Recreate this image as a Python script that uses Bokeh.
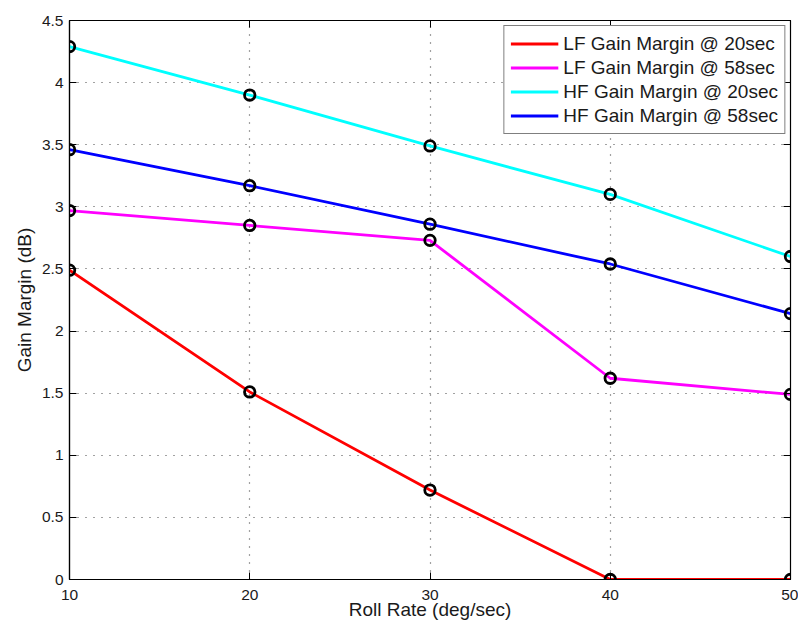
from bokeh.plotting import figure
from bokeh.models import LinearAxis, Legend, LegendItem, FixedTicker, CustomJSTickFormatter
from bokeh.embed import file_html
from bokeh.resources import INLINE

# Roll rate (deg/sec) and gain margin (dB) per configuration
roll_rate = [10, 20, 30, 40, 50]
lf_20 = [2.49, 1.51, 0.72, 0.0, 0.0]
lf_58 = [2.97, 2.85, 2.73, 1.62, 1.49]
hf_20 = [4.29, 3.90, 3.49, 3.10, 2.60]
hf_58 = [3.46, 3.17, 2.86, 2.54, 2.14]

series_names = ["LF Gain Margin @ 20sec", "LF Gain Margin @ 58sec",
                "HF Gain Margin @ 20sec", "HF Gain Margin @ 58sec"]
series_colors = ["#ff0000", "#ff00ff", "#00ffff", "#0000ff"]

x_ticks = [10, 20, 30, 40, 50]
y_ticks = [0, 0.5, 1, 1.5, 2, 2.5, 3, 3.5, 4, 4.5]

FONT = "Liberation Sans"
TXT = "#1a1a1a"

p = figure(width=798, height=623, x_range=(10, 50), y_range=(0, 4.5),
           output_backend="svg", toolbar_location=None,
           min_border_left=69, min_border_right=8, min_border_top=20,
           min_border_bottom=44)
p.background_fill_color = "white"
p.border_fill_color = "white"
p.outline_line_color = "black"
p.outline_line_width = 1.2

# dotted grid
for g, ticks in ((p.xgrid, x_ticks), (p.ygrid, y_ticks)):
    g.ticker = FixedTicker(ticks=ticks)
    g.grid_line_color = "#444444"
    g.grid_line_dash = "1 7"
    g.grid_line_width = 1.2

# main axes
p.xaxis.ticker = FixedTicker(ticks=x_ticks)
p.yaxis.ticker = FixedTicker(ticks=y_ticks)
p.yaxis.major_label_overrides = {0: "0", 0.5: "0.5", 1: "1", 1.5: "1.5", 2: "2",
                                 2.5: "2.5", 3: "3", 3.5: "3.5", 4: "4", 4.5: "4.5"}
p.xaxis.axis_label = "Roll Rate (deg/sec)"
p.yaxis.axis_label = "Gain Margin (dB)"
for ax in (p.xaxis, p.yaxis):
    ax.axis_line_color = "black"
    ax.axis_line_width = 1.2
    ax.major_tick_in = 7
    ax.major_tick_out = 0
    ax.major_tick_line_color = "black"
    ax.minor_tick_line_color = None
    ax.major_label_text_font = FONT
    ax.major_label_text_font_size = "15.5px"
    ax.major_label_text_color = TXT
    ax.axis_label_text_font = FONT
    ax.axis_label_text_font_size = "19px"
    ax.axis_label_text_font_style = "normal"
    ax.axis_label_text_color = TXT
p.xaxis.major_label_standoff = 10
p.xaxis.axis_label_standoff = -4
p.yaxis.major_label_standoff = 6
p.yaxis.axis_label_standoff = 4

# mirrored ticks on the top and right edges, without labels
blank = CustomJSTickFormatter(code="return ''")
top = LinearAxis(ticker=FixedTicker(ticks=x_ticks), formatter=blank,
                 major_tick_in=7, major_tick_out=0, minor_tick_line_color=None,
                 axis_line_color="black", major_label_standoff=0)
right = LinearAxis(ticker=FixedTicker(ticks=y_ticks), formatter=blank,
                   major_tick_in=7, major_tick_out=0, minor_tick_line_color=None,
                   axis_line_color="black", major_label_standoff=0)
p.add_layout(top, "above")
p.add_layout(right, "right")

items = []
for name, color, ys in zip(series_names, series_colors, [lf_20, lf_58, hf_20, hf_58]):
    r = p.line(roll_rate, ys, line_color=color, line_width=2.8)
    p.scatter(roll_rate, ys, marker="circle", size=10.5, fill_color=None,
              line_color="black", line_width=2.8)
    items.append(LegendItem(label=name, renderers=[r]))

legend = Legend(items=items, location="top_right")
legend.border_line_color = "black"
legend.border_line_width = 1
legend.background_fill_alpha = 1
legend.label_text_font = FONT
legend.label_text_font_size = "19px"
legend.label_text_color = TXT
legend.glyph_width = 48
legend.glyph_height = 23
legend.label_height = 23
legend.spacing = 1
legend.padding = 6
legend.margin = 5
legend.label_standoff = 5
p.add_layout(legend)

open("out.html", "w").write(file_html(p, INLINE))
